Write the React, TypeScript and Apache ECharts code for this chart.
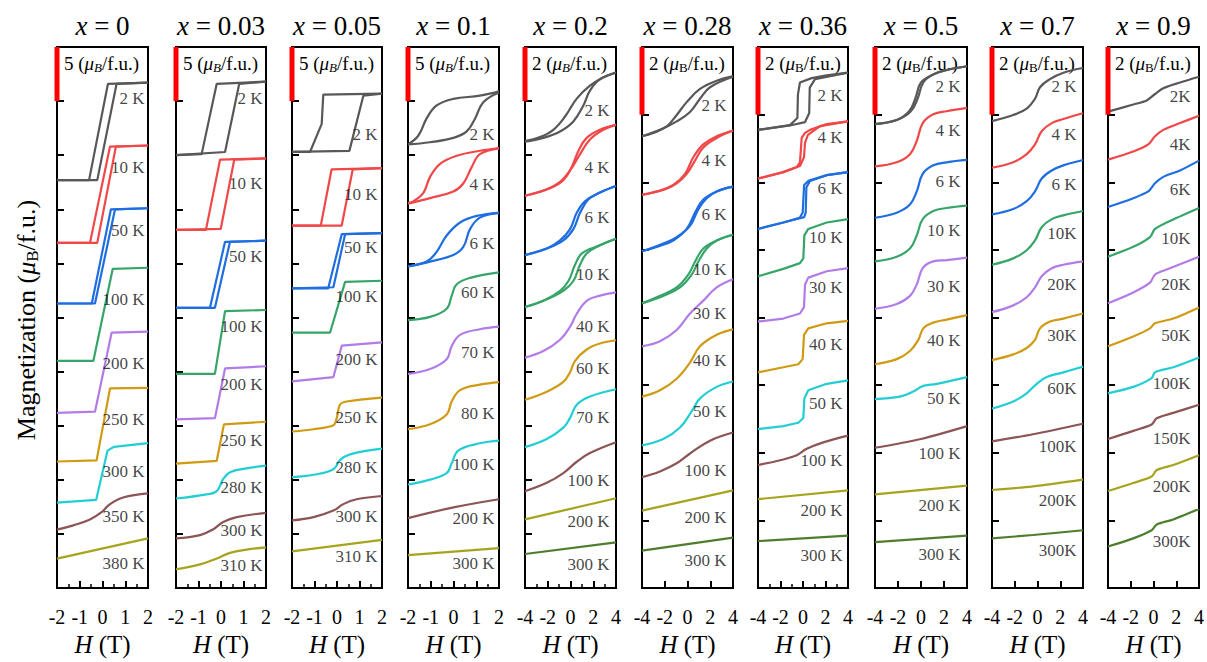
import React, { useEffect, useRef } from "react";
import * as echarts from "echarts";

const FONT = '"Liberation Serif", "Times New Roman", serif';

// ---------- data ----------
const X_TITLES = ["0", "0.03", "0.05", "0.1", "0.2", "0.28", "0.36", "0.5", "0.7", "0.9"];
const SCALE_VALUES = ["5", "5", "5", "5", "2", "2", "2", "2", "2", "2"];
const X_MAX = [2, 2, 2, 2, 4, 4, 4, 4, 4, 4];
const X_INTERVAL = [1, 1, 1, 1, 2, 2, 2, 2, 2, 2];
const Y_MAX = [50, 50, 50, 50, 20, 16, 16, 16, 16, 16];
const Y_INTERVAL = [5, 5, 5, 5, 2, 2, 2, 2, 2, 2];

// x = 0
const P1_T = ["2 K", "10 K", "50 K", "100 K", "200 K", "250 K", "300 K", "350 K", "380 K"];
const P1_LY = [45.2, 38.9, 33.0, 26.7, 20.8, 15.6, 10.8, 6.6, 2.3];
const P1_CURVES = [
  [[[2, 46.7], [0.24, 46.6], [-0.59, 37.7], [-2, 37.7]], [[-2, 37.7], [-0.23, 37.7], [0.62, 46.6], [2, 46.7]]],
  [[[2, 40.9], [0.33, 40.8], [-0.55, 31.9], [-2, 31.9]], [[-2, 31.9], [-0.23, 31.9], [0.59, 40.8], [2, 40.9]]],
  [[[2, 35.1], [0.37, 35.0], [-0.47, 26.3], [-2, 26.3]], [[-2, 26.3], [-0.33, 26.3], [0.55, 35.0], [2, 35.1]]],
  [[[-2, 21.0], [-0.4, 21.0], [0.45, 29.5], [2, 29.6]]],
  [[[-2, 16.2], [-0.33, 16.3], [0.4, 23.6], [2, 23.7]]],
  [[[-2, 11.7], [-0.26, 11.8], [0.33, 18.45], [2, 18.5]]],
  [[[-2, 7.9], [-0.28, 8.15], [0.22, 12.7], [0.5, 13.05], [2, 13.4]]],
  [[[-2, 5.4], [-1.28, 5.8], [-0.55, 6.34], [-0.04, 7.01], [0.33, 7.76], [0.91, 8.37], [2, 8.75]]],
  [[[-2, 2.73], [2, 4.6]]],
];

// x = 0.03
const P2_T = ["2 K", "10 K", "50 K", "100 K", "200 K", "250 K", "280 K", "300 K", "310 K"];
const P2_LY = [45.2, 37.4, 30.6, 24.2, 18.8, 13.6, 9.3, 5.3, 2.1];
const P2_CURVES = [
  [[[2, 46.8], [-0.19, 46.6], [-0.86, 40.1], [-2, 40.0]], [[-2, 40.0], [0.18, 40.3], [0.81, 46.6], [2, 46.8]]],
  [[[2, 39.7], [-0.04, 39.6], [-0.67, 33.1], [-2, 33.1]], [[-2, 33.1], [-0.01, 33.2], [0.59, 39.6], [2, 39.7]]],
  [[[2, 32.1], [0.18, 32.0], [-0.49, 25.9], [-2, 25.9]], [[-2, 25.9], [-0.27, 25.9], [0.4, 32.0], [2, 32.1]]],
  [[[-2, 19.8], [-0.27, 19.8], [0.18, 25.6], [2, 25.7]]],
  [[[-2, 15.6], [-0.27, 15.7], [0.18, 20.3], [2, 20.5]]],
  [[[-2, 11.5], [-0.19, 11.76], [0.13, 15.13], [2, 15.37]]],
  [[[-2, 8.28], [-0.64, 8.66], [-0.19, 8.96], [0.08, 10.02], [0.4, 10.71], [1.14, 11.07], [2, 11.31]]],
  [[[-2, 4.6], [-0.93, 4.9], [-0.34, 5.44], [0.1, 6.11], [0.7, 6.56], [2, 6.95]]],
  [[[-2, 1.74], [-0.93, 2.19], [-0.19, 2.73], [0.4, 3.25], [1.14, 3.55], [2, 3.76]]],
];

// x = 0.05
const P3_T = ["2 K", "10 K", "50 K", "100 K", "200 K", "250 K", "280 K", "300 K", "310 K"];
const P3_LY = [41.9, 36.4, 31.5, 26.9, 21.1, 15.8, 11.1, 6.6, 2.9];
const P3_CURVES = [
  [[[2, 45.7], [-0.61, 45.6], [-0.68, 42.9], [-1.2, 40.3], [-2, 40.3]], [[-2, 40.3], [0.55, 40.4], [1.17, 45.5], [2, 45.7]]],
  [[[2, 38.8], [-0.24, 38.7], [-0.72, 33.5], [-2, 33.5]], [[-2, 33.5], [0.21, 33.5], [0.7, 38.7], [2, 38.8]]],
  [[[2, 32.8], [0.21, 32.7], [-0.39, 27.7], [-2, 27.7]], [[-2, 27.7], [-0.16, 27.8], [0.36, 32.7], [2, 32.8]]],
  [[[-2, 23.6], [-0.31, 23.6], [0.36, 28.3], [2, 28.4]]],
  [[[-2, 19.1], [-0.16, 19.5], [0.21, 22.4], [2, 22.7]]],
  [[[-2, 14.47], [-1.04, 14.68], [-0.16, 15.04], [-0.01, 15.73], [0.13, 16.94], [0.43, 17.24], [2, 17.6]]],
  [[[-2, 10.26], [-1.04, 10.47], [-0.16, 10.98], [0.13, 11.82], [0.58, 12.36], [2, 12.88]]],
  [[[-2, 6.25], [-1.04, 6.56], [-0.16, 7.16], [0.28, 7.76], [0.87, 8.21], [2, 8.51]]],
  [[[-2, 3.4], [2, 4.45]]],
];

// x = 0.1
const P4_T = ["2 K", "4 K", "6 K", "60 K", "70 K", "80 K", "100 K", "200 K", "300 K"];
const P4_LY = [41.9, 37.3, 31.8, 27.3, 21.8, 16.1, 11.4, 6.4, 2.3];
const P4_CURVES = [
  [
    [[2, 45.9], [1.16, 45.5], [-0.01, 45.2], [-0.74, 44.6], [-1.18, 43.4], [-1.55, 41.8], [-2, 41.0]],
    [[-2, 41.0], [-1.03, 41.2], [-0.01, 41.6], [0.58, 42.2], [0.95, 43.4], [1.31, 44.9], [2, 45.8]],
  ],
  [
    [[2, 40.64], [1.16, 40.41], [0.14, 39.95], [-0.59, 39.2], [-1.03, 38.0], [-1.33, 36.49], [-1.77, 35.74], [-2, 35.59]],
    [[-2, 35.53], [-1.03, 36.04], [-0.01, 36.64], [0.43, 37.39], [0.8, 38.9], [1.16, 40.1], [2, 40.64]],
  ],
  [
    [[2, 34.68], [1.02, 34.39], [0.29, 33.78], [-0.3, 32.58], [-0.74, 31.07], [-1.18, 30.17], [-2, 29.72]],
    [[-2, 29.72], [-1.03, 30.17], [-0.01, 30.78], [0.43, 31.53], [0.73, 33.19], [1.16, 34.23], [2, 34.68]],
  ],
  [[[-2, 24.76], [-1.03, 25.06], [-0.3, 25.81], [-0.08, 27.01], [0.14, 28.07], [0.73, 28.67], [2, 29.18]]],
  [[[-2, 19.79], [-1.03, 20.24], [-0.3, 21.15], [-0.08, 22.36], [0.29, 23.4], [1.16, 23.92], [2, 24.16]]],
  [[[-2, 14.68], [-1.03, 15.14], [-0.3, 16.04], [-0.08, 17.24], [0.29, 18.29], [1.16, 18.8], [2, 19.04]]],
  [[[-2, 9.57], [-1.03, 10.02], [-0.3, 10.62], [-0.08, 11.53], [0.22, 12.73], [1.16, 13.38], [2, 13.63]]],
  [[[-2, 6.47], [0, 7.46], [2, 8.21]]],
  [[[-2, 3.04], [2, 3.7]]],
];

// x = 0.2
const P5_T = ["2 K", "4 K", "6 K", "10 K", "40 K", "60 K", "70 K", "100 K", "200 K", "300 K"];
const P5_LY = [17.65, 15.56, 13.68, 11.59, 9.68, 8.12, 6.32, 3.97, 2.45, 0.87];
const P5_CURVES = [
  [
    [[4, 19.07], [2.88, 18.87], [1.71, 18.57], [0.55, 18.09], [-0.48, 17.43], [-1.51, 16.94], [-2.68, 16.67], [-4, 16.52]],
    [[-4, 16.5], [-2.39, 16.64], [-0.92, 16.88], [0.25, 17.25], [1.13, 17.84], [1.71, 18.39], [2.59, 18.81], [4, 19.05]],
  ],
  [
    [[4, 17.12], [2.59, 16.94], [1.42, 16.64], [0.69, 16.16], [0.11, 15.56], [-0.63, 15.08], [-1.8, 14.78], [-4, 14.5]],
    [[-4, 14.5], [-2.09, 14.74], [-0.92, 15.02], [-0.04, 15.44], [0.84, 16.04], [1.71, 16.58], [2.88, 16.94], [4, 17.12]],
  ],
  [
    [[4, 14.86], [2.59, 14.62], [1.56, 14.36], [0.84, 13.87], [0.25, 13.27], [-0.63, 12.85], [-2.09, 12.55], [-4, 12.31]],
    [[-4, 12.31], [-2.09, 12.55], [-0.92, 12.85], [-0.04, 13.27], [0.55, 13.87], [1.27, 14.3], [2.59, 14.62], [4, 14.86]],
  ],
  [
    [[4, 12.91], [2.59, 12.67], [1.42, 12.37], [0.84, 11.95], [0.25, 11.35], [-0.63, 10.99], [-2.39, 10.62], [-4, 10.39]],
    [[-4, 10.39], [-2.39, 10.62], [-0.92, 10.99], [-0.18, 11.35], [0.4, 11.95], [1.0, 12.37], [2.59, 12.67], [4, 12.91]],
  ],
  [[[-4, 8.52], [-2.39, 8.76], [-0.92, 9.18], [-0.04, 9.66], [0.55, 10.14], [1.42, 10.62], [2.59, 10.81], [4, 10.93]]],
  [[[-4, 6.96], [-2.09, 7.26], [-0.63, 7.62], [-0.04, 7.98], [0.4, 8.4], [1.42, 8.82], [2.59, 9.04], [4, 9.16]]],
  [[[-4, 5.21], [-2.09, 5.51], [-0.63, 5.93], [-0.04, 6.29], [0.55, 6.78], [1.71, 7.08], [4, 7.35]]],
  [[[-4, 3.58], [-2.09, 3.89], [-0.63, 4.25], [0.55, 4.67], [1.71, 4.99], [4, 5.39]]],
  [[[-4, 2.54], [4, 3.32]]],
  [[[-4, 1.26], [4, 1.69]]],
];

// x = 0.28
const P6_T = ["2 K", "4 K", "6 K", "10 K", "30 K", "40 K", "50 K", "100 K", "200 K", "300 K"];
const P6_LY = [14.27, 12.65, 11.06, 9.42, 8.12, 6.73, 5.23, 3.49, 2.08, 0.81];
const P6_CURVES = [
  [
    [[4, 15.14], [2.57, 15.0], [1.1, 14.76], [-0.07, 14.37], [-0.95, 13.99], [-1.83, 13.65], [-3.01, 13.46], [-4, 13.36]],
    [[-4, 13.36], [-2.42, 13.55], [-0.95, 13.8], [0.22, 14.08], [1.1, 14.47], [1.98, 14.81], [4, 15.12]],
  ],
  [
    [[4, 13.53], [2.57, 13.36], [1.39, 13.12], [0.51, 12.74], [-0.22, 12.25], [-1.25, 11.92], [-2.71, 11.73], [-4, 11.63]],
    [[-4, 11.63], [-2.13, 11.77], [-0.95, 11.97], [-0.07, 12.25], [0.66, 12.64], [1.39, 13.03], [2.57, 13.31], [4, 13.53]],
  ],
  [
    [[4, 11.87], [2.57, 11.73], [1.39, 11.49], [0.66, 11.1], [-0.07, 10.62], [-1.25, 10.28], [-2.71, 10.09], [-4, 9.96]],
    [[-4, 9.96], [-2.13, 10.19], [-0.95, 10.38], [0.22, 10.71], [0.95, 11.2], [1.69, 11.53], [2.57, 11.73], [4, 11.87]],
  ],
  [
    [[4, 10.45], [2.57, 10.28], [1.39, 10.04], [0.66, 9.65], [0.07, 9.27], [-0.95, 8.89], [-2.71, 8.6], [-4, 8.42]],
    [[-4, 8.42], [-2.13, 8.64], [-0.66, 8.89], [0.37, 9.27], [0.95, 9.65], [1.69, 10.04], [2.57, 10.28], [4, 10.45]],
  ],
  [[[-4, 7.15], [-2.42, 7.3], [-0.95, 7.63], [0.22, 8.12], [1.39, 8.5], [2.57, 8.89], [4, 9.13]]],
  [[[-4, 5.66], [-2.42, 5.85], [-0.95, 6.19], [0.22, 6.67], [1.1, 7.15], [2.57, 7.49], [4, 7.65]]],
  [[[-4, 4.22], [-2.13, 4.41], [-0.66, 4.75], [0.37, 5.23], [1.1, 5.61], [2.57, 5.95], [4, 6.11]]],
  [[[-4, 3.28], [-2.42, 3.45], [-0.95, 3.69], [0.22, 3.98], [1.98, 4.36], [4, 4.6]]],
  [[[-4, 2.29], [4, 2.89]]],
  [[[-4, 1.11], [4, 1.49]]],
];

// x = 0.36
const P7_T = ["2 K", "4 K", "6 K", "10 K", "30 K", "40 K", "50 K", "100 K", "200 K", "300 K"];
const P7_LY = [14.56, 13.31, 11.81, 10.37, 8.9, 7.19, 5.46, 3.78, 2.28, 0.95];
const P7_CURVES = [
  [
    [[4, 15.24], [2.11, 15.16], [0.77, 15.08], [-0.27, 14.95], [-0.45, 14.6], [-0.5, 13.9], [-1.16, 13.69], [-4, 13.55]],
    [[-4, 13.55], [-1.16, 13.68], [0.18, 13.78], [0.55, 14.04], [0.6, 14.8], [1.07, 15.05], [4, 15.24]],
  ],
  [
    [[4, 13.8], [2.11, 13.72], [0.62, 13.55], [0.18, 13.46], [-0.12, 13.31], [-0.27, 12.59], [-0.56, 12.45], [-1.75, 12.3], [-4, 12.11]],
    [[-4, 12.11], [-1.75, 12.3], [-0.27, 12.48], [0.09, 12.74], [0.18, 13.17], [0.44, 13.4], [1.51, 13.66], [4, 13.8]],
  ],
  [
    [[4, 12.3], [2.11, 12.21], [0.47, 12.04], [0.1, 11.92], [-0.03, 11.1], [-0.3, 10.95], [-1.75, 10.81], [-4, 10.62]],
    [[-4, 10.62], [-1.75, 10.81], [0.1, 10.97], [0.24, 11.1], [0.3, 11.85], [0.62, 12.04], [2.11, 12.21], [4, 12.3]],
  ],
  [[[-4, 9.22], [-1.75, 9.44], [-0.27, 9.61], [0.03, 9.75], [0.12, 10.43], [0.47, 10.62], [2.11, 10.81], [4, 10.91]]],
  [[[-4, 7.88], [-1.75, 7.97], [-0.27, 8.12], [0.09, 8.31], [0.18, 8.98], [0.47, 9.18], [2.11, 9.37], [4, 9.46]]],
  [[[-4, 6.38], [-1.75, 6.53], [-0.42, 6.62], [-0.03, 6.77], [0.09, 7.49], [0.47, 7.68], [2.11, 7.83], [4, 7.9]]],
  [[[-4, 4.7], [-1.75, 4.79], [-0.42, 4.89], [0.03, 5.03], [0.12, 5.61], [0.47, 5.85], [2.11, 6.04], [4, 6.14]]],
  [[[-4, 3.64], [-2.04, 3.78], [-0.56, 3.93], [0.33, 4.12], [1.8, 4.31], [4, 4.51]]],
  [[[-4, 2.63], [4, 2.89]]],
  [[[-4, 1.39], [4, 1.55]]],
];

// x = 0.5
const P8_T = ["2 K", "4 K", "6 K", "10 K", "30 K", "40 K", "50 K", "100 K", "200 K", "300 K"];
const P8_LY = [14.82, 13.52, 12.01, 10.57, 8.92, 7.31, 5.6, 3.99, 2.43, 0.98];
const P8_CURVES = [
  [
    [[4, 15.43], [2.23, 15.32], [1.07, 15.19], [0.0, 14.95], [-0.5, 14.47], [-1.05, 14.09], [-2.11, 13.84], [-4, 13.72]],
    [[-4, 13.72], [-2.11, 13.84], [-0.9, 14.09], [-0.3, 14.47], [0.2, 14.95], [1.07, 15.19], [2.23, 15.32], [4, 15.43]],
  ],
  [[[-4, 12.47], [-2.11, 12.59], [-0.96, 12.83], [-0.37, 13.22], [0.15, 13.75], [1.07, 14.01], [2.23, 14.1], [4, 14.2]]],
  [[[-4, 10.95], [-2.11, 11.1], [-0.96, 11.34], [-0.37, 11.73], [0.15, 12.25], [1.07, 12.5], [2.23, 12.59], [4, 12.66]]],
  [[[-4, 9.66], [-2.11, 9.8], [-0.96, 10.04], [-0.37, 10.43], [0.15, 10.91], [1.07, 11.15], [2.23, 11.24], [4, 11.31]]],
  [[[-4, 8.26], [-2.11, 8.4], [-0.96, 8.64], [-0.37, 8.98], [0.15, 9.46], [1.07, 9.66], [2.23, 9.7], [4, 9.77]]],
  [[[-4, 6.62], [-2.11, 6.77], [-0.96, 7.01], [-0.23, 7.34], [0.2, 7.68], [1.07, 7.85], [2.23, 7.94], [4, 8.07]]],
  [[[-4, 5.59], [-1.83, 5.66], [-0.67, 5.81], [0.2, 5.98], [1.37, 6.04], [4, 6.24]]],
  [[[-4, 4.15], [0, 4.41], [4, 4.79]]],
  [[[-4, 2.77], [4, 3.03]]],
  [[[-4, 1.36], [4, 1.55]]],
];

// x = 0.7
const P9_T = ["2 K", "4 K", "6 K", "10K", "20K", "30K", "60K", "100K", "200K", "300K"];
const P9_LY = [14.82, 13.4, 11.93, 10.48, 8.98, 7.48, 5.89, 4.19, 2.6, 1.1];
const P9_CURVES = [
  [[[-4, 13.81], [-2.13, 13.99], [-0.95, 14.18], [-0.22, 14.47], [0.22, 14.81], [1.1, 15.05], [2.27, 15.24], [4, 15.38]]],
  [[[-4, 12.43], [-2.13, 12.59], [-0.95, 12.83], [-0.22, 13.12], [0.37, 13.51], [1.25, 13.75], [2.27, 13.87], [4, 14.04]]],
  [[[-4, 11.05], [-2.13, 11.21], [-0.95, 11.44], [-0.22, 11.73], [0.37, 12.11], [1.25, 12.35], [2.27, 12.5], [4, 12.66]]],
  [[[-4, 9.56], [-2.13, 9.75], [-0.95, 9.99], [-0.22, 10.28], [0.37, 10.67], [1.25, 10.91], [2.27, 11.02], [4, 11.15]]],
  [[[-4, 8.16], [-2.13, 8.36], [-0.95, 8.6], [-0.22, 8.89], [0.37, 9.22], [1.25, 9.46], [2.27, 9.56], [4, 9.66]]],
  [[[-4, 6.74], [-2.13, 6.91], [-0.95, 7.1], [-0.22, 7.34], [0.22, 7.68], [1.1, 7.88], [2.27, 7.97], [4, 8.12]]],
  [[[-4, 5.31], [-2.13, 5.52], [-0.95, 5.76], [-0.07, 6.04], [0.81, 6.24], [2.27, 6.38], [4, 6.55]]],
  [[[-4, 4.34], [-0.4, 4.55], [4, 4.86]]],
  [[[-4, 2.9], [-0.4, 3.01], [4, 3.21]]],
  [[[-4, 1.47], [-0.4, 1.57], [4, 1.71]]],
];

// x = 0.9
const P10_T = ["2K", "4K", "6K", "10K", "20K", "50K", "100K", "150K", "200K", "300K"];
const P10_LY = [14.53, 13.11, 11.78, 10.34, 8.98, 7.48, 6.04, 4.42, 3.0, 1.39];
const P10_CURVES = [
  [[[-4, 14.09], [-1.78, 14.3], [-0.6, 14.42], [0.13, 14.61], [0.86, 14.78], [2.33, 14.95], [4, 15.12]]],
  [[[-4, 12.67], [-1.78, 12.91], [-0.46, 13.12], [0.13, 13.36], [0.86, 13.55], [2.33, 13.75], [4, 13.97]]],
  [[[-4, 11.27], [-1.78, 11.53], [-0.46, 11.73], [0.13, 11.97], [0.86, 12.16], [2.33, 12.35], [4, 12.64]]],
  [[[-4, 9.8], [-1.78, 10.09], [-0.31, 10.38], [0.13, 10.62], [1.16, 10.81], [4, 11.24]]],
  [[[-4, 8.42], [-1.78, 8.74], [-0.31, 9.03], [0.13, 9.27], [1.16, 9.42], [4, 9.8]]],
  [[[-4, 7.15], [-1.78, 7.44], [-0.31, 7.68], [0.13, 7.83], [1.74, 7.97], [4, 8.3]]],
  [[[-4, 5.76], [-1.78, 5.95], [-0.16, 6.21], [0.13, 6.38], [1.74, 6.53], [4, 6.82]]],
  [[[-4, 4.41], [-1.78, 4.65], [-0.16, 4.84], [0.28, 5.02], [1.74, 5.18], [4, 5.42]]],
  [[[-4, 2.87], [-1.78, 3.11], [-0.16, 3.3], [0.28, 3.49], [1.74, 3.64], [4, 3.93]]],
  [[[-4, 1.23], [-1.78, 1.47], [-0.16, 1.71], [0.28, 1.88], [1.74, 2.03], [4, 2.34]]],
];

// ---------- styles / layout ----------
const COLORS = ["#585858", "#f04848", "#1f6ee0", "#37a56a", "#b27ce8", "#d09a12", "#22cdd4", "#8c5454", "#a5a41f", "#4e7e2c"];
const PANEL_LEFT = [57, 176, 292, 408, 525, 642, 758, 875, 992, 1108];
const PANEL_RIGHT = [148, 266, 382, 499, 616, 733, 848, 967, 1083, 1199];
const PLOT_TOP = 47;
const PLOT_BOTTOM = 601;
const MINOR = [true, true, true, true, true, false, true, false, false, false];
const LABEL_GAP = [3, 3, 4, 4, 6, 6, 5, 6, 6, 8];
const SMOOTH = [
  [0, 0, 0, 0, 0, 0, 0, 0.4, 0],
  [0, 0, 0, 0, 0, 0, 0.4, 0.4, 0.4],
  [0, 0, 0, 0, 0, 0.3, 0.4, 0.4, 0],
  [0.4, 0.4, 0.4, 0.4, 0.4, 0.4, 0.4, 0.4, 0],
  [0.4, 0.4, 0.4, 0.4, 0.4, 0.4, 0.4, 0.4, 0, 0],
  [0.4, 0.4, 0.4, 0.4, 0.4, 0.4, 0.4, 0.4, 0, 0],
  [0, 0, 0, 0, 0, 0, 0, 0.4, 0, 0],
  [0.4, 0.4, 0.4, 0.4, 0.4, 0.4, 0.4, 0.3, 0, 0],
  [0.4, 0.4, 0.4, 0.4, 0.4, 0.4, 0.4, 0.3, 0.3, 0.3],
  [0.3, 0.3, 0.3, 0.3, 0.3, 0.3, 0.3, 0.3, 0.3, 0.3],
];

const PANELS = [
  { curves: P1_CURVES, temps: P1_T, labelY: P1_LY },
  { curves: P2_CURVES, temps: P2_T, labelY: P2_LY },
  { curves: P3_CURVES, temps: P3_T, labelY: P3_LY },
  { curves: P4_CURVES, temps: P4_T, labelY: P4_LY },
  { curves: P5_CURVES, temps: P5_T, labelY: P5_LY },
  { curves: P6_CURVES, temps: P6_T, labelY: P6_LY },
  { curves: P7_CURVES, temps: P7_T, labelY: P7_LY },
  { curves: P8_CURVES, temps: P8_T, labelY: P8_LY },
  { curves: P9_CURVES, temps: P9_T, labelY: P9_LY },
  { curves: P10_CURVES, temps: P10_T, labelY: P10_LY },
];

function buildOption() {
  const grid: any[] = [];
  const xAxis: any[] = [];
  const yAxis: any[] = [];
  const series: any[] = [];
  const graphic: any[] = [];

  PANELS.forEach((panel, p) => {
    const left = PANEL_LEFT[p];
    const right = PANEL_RIGHT[p];
    grid.push({
      left,
      top: PLOT_TOP,
      width: right - left,
      height: PLOT_BOTTOM - PLOT_TOP,
      show: true,
      borderColor: "#000",
      borderWidth: 2,
      backgroundColor: "transparent",
    });
    xAxis.push({
      gridIndex: p,
      type: "value",
      position: "bottom",
      min: -X_MAX[p],
      max: X_MAX[p],
      interval: X_INTERVAL[p],
      axisLine: { show: true, onZero: false, lineStyle: { color: "#000", width: 2 } },
      axisTick: { show: true, inside: true, length: 7, lineStyle: { color: "#000", width: 2 } },
      minorTick: { show: MINOR[p], splitNumber: 2, length: 4, lineStyle: { color: "#000", width: 1.5 } },
      splitLine: { show: false },
      minorSplitLine: { show: false },
      axisLabel: { fontSize: 20, fontFamily: FONT, color: "#000", margin: 19 },
      name: "{i|H} (T)",
      nameLocation: "middle",
      nameGap: 36,
      nameTextStyle: {
        fontSize: 25,
        fontFamily: FONT,
        color: "#000",
        rich: { i: { fontSize: 25, fontFamily: FONT, fontStyle: "italic", color: "#000" } },
      },
    });
    yAxis.push({
      gridIndex: p,
      type: "value",
      position: "left",
      min: 0,
      max: Y_MAX[p],
      interval: Y_INTERVAL[p],
      axisLine: { show: true, onZero: false, lineStyle: { color: "#000", width: 2 } },
      axisTick: { show: true, inside: true, length: 7, lineStyle: { color: "#000", width: 2 } },
      axisLabel: { show: false },
      splitLine: { show: false },
    });

    panel.curves.forEach((curve, c) => {
      curve.forEach((branch) => {
        series.push({
          type: "line",
          xAxisIndex: p,
          yAxisIndex: p,
          data: branch,
          symbol: "none",
          showSymbol: false,
          smooth: SMOOTH[p][c] || false,
          silent: true,
          z: 3,
          lineStyle: { color: COLORS[c], width: 2.2 },
        });
      });
    });

    // scale bar (one major y interval) on the left spine
    series.push({
      type: "line",
      xAxisIndex: p,
      yAxisIndex: p,
      data: [
        [-X_MAX[p], Y_MAX[p] - Y_INTERVAL[p]],
        [-X_MAX[p], Y_MAX[p]],
      ],
      symbol: "none",
      clip: false,
      silent: true,
      z: 6,
      lineStyle: { color: "#ff0000", width: 5 },
    });

    // temperature labels
    series.push({
      type: "scatter",
      xAxisIndex: p,
      yAxisIndex: p,
      symbolSize: 1,
      silent: true,
      z: 7,
      itemStyle: { color: "rgba(0,0,0,0)" },
      data: panel.labelY.map((y, i) => ({ value: [X_MAX[p], y], name: panel.temps[i] })),
      label: {
        show: true,
        position: "left",
        distance: LABEL_GAP[p],
        formatter: "{b}",
        fontSize: 17,
        fontFamily: FONT,
        color: "#111",
      },
    });

    // panel title
    graphic.push({
      type: "text",
      x: (left + right) / 2,
      y: 26,
      silent: true,
      style: {
        text: "{i|x} = " + X_TITLES[p],
        fontSize: 27,
        fontFamily: FONT,
        fill: "#000",
        align: "center",
        verticalAlign: "middle",
        rich: {
          i: { fontSize: 27, fontFamily: FONT, fontStyle: "italic", fill: "#000" },
        },
      },
    });

    // scale text
    const italicB = p < 5;
    graphic.push({
      type: "text",
      x: left + 7,
      y: 63,
      silent: true,
      style: {
        text: SCALE_VALUES[p] + " ({mu|\u03bc}{sub|B}/f.u.)",
        fontSize: 19,
        fontFamily: FONT,
        fill: "#000",
        align: "left",
        verticalAlign: "middle",
        lineHeight: 22,
        rich: {
          mu: { fontSize: 19, fontFamily: FONT, fontStyle: "italic", fill: "#000", lineHeight: 22 },
          sub: {
            fontSize: 13,
            fontFamily: FONT,
            fontStyle: italicB ? "italic" : "normal",
            fill: "#000",
            lineHeight: 11,
            verticalAlign: "bottom",
          },
        },
      },
    });
  });

  // global y label
  graphic.push({
    type: "text",
    x: 26,
    y: 320,
    rotation: Math.PI / 2,
    silent: true,
    style: {
      text: "Magnetization ({mu|\u03bc}{sub|B}/f.u.)",
      fontSize: 26,
      fontFamily: FONT,
      fill: "#000",
      align: "center",
      verticalAlign: "middle",
      lineHeight: 30,
      rich: {
        mu: { fontSize: 26, fontFamily: FONT, fontStyle: "italic", fill: "#000", lineHeight: 30 },
        sub: { fontSize: 17, fontFamily: FONT, fill: "#000", lineHeight: 14, verticalAlign: "bottom" },
      },
    },
  });

  return {
    animation: false,
    backgroundColor: "#fff",
    grid,
    xAxis,
    yAxis,
    series,
    graphic,
  };
}

export default function App() {
  const ref = useRef<HTMLDivElement>(null);
  useEffect(() => {
    if (!ref.current) return;
    const chart = echarts.init(ref.current, undefined, { renderer: "svg" });
    chart.setOption(buildOption() as any);
    return () => chart.dispose();
  }, []);
  return (
    <div
      ref={ref}
      style={{ position: "absolute", left: 0, top: 0, width: 1207, height: 662, background: "#fff" }}
    />
  );
}
